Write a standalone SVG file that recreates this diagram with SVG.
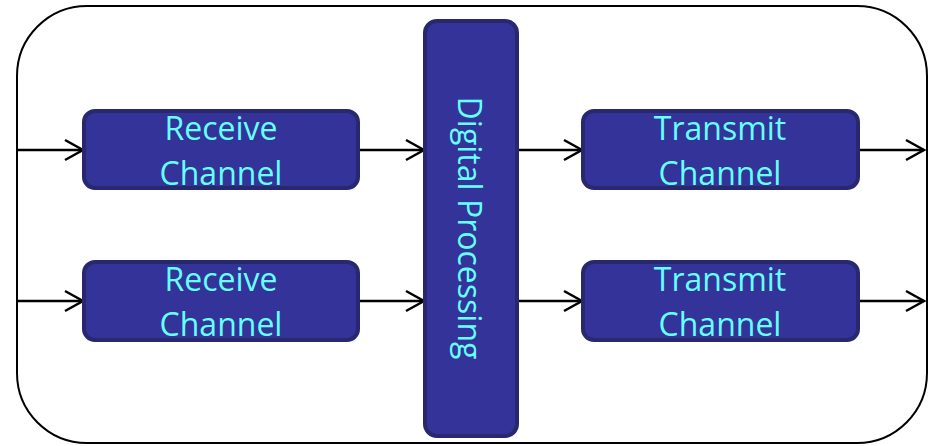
<svg xmlns="http://www.w3.org/2000/svg" width="930" height="446" viewBox="0 0 930 446">
<style>
.box{fill:#333399;stroke:#28286e;stroke-width:4}
.lbl{font-family:"Open Sans","Noto Sans",sans-serif;font-size:32px;fill:#66ffff;text-anchor:middle}
.ln{stroke:#000;stroke-width:2.5;fill:none;marker-end:url(#ah)}
</style>
<defs>
<marker id="ah" markerUnits="userSpaceOnUse" markerWidth="24" markerHeight="24" refX="20" refY="12" orient="auto" viewBox="0 0 24 24">
<path d="M2,2 L20,12 L2,22" fill="none" stroke="#000" stroke-width="2.5"/>
</marker>
</defs>
<rect x="17" y="6" width="910" height="437" rx="70" ry="70" fill="#fff" stroke="#000" stroke-width="2"/>
<g id="connectors">
<line class="ln" x1="17" y1="150" x2="83" y2="150"/>
<line class="ln" x1="17" y1="301" x2="83" y2="301"/>
<line class="ln" x1="359" y1="150" x2="424" y2="150"/>
<line class="ln" x1="359" y1="301" x2="424" y2="301"/>
<line class="ln" x1="518" y1="150" x2="582" y2="150"/>
<line class="ln" x1="518" y1="301" x2="582" y2="301"/>
<line class="ln" x1="859" y1="150" x2="924" y2="150"/>
<line class="ln" x1="859" y1="301" x2="924" y2="301"/>
</g>
<g id="rx1"><rect class="box" x="84" y="111" width="274" height="77" rx="11"/><text class="lbl" x="221" y="140">Receive</text><text class="lbl" x="221" y="185">Channel</text></g>
<g id="rx2"><rect class="box" x="84" y="262" width="274" height="78" rx="11"/><text class="lbl" x="221" y="291">Receive</text><text class="lbl" x="221" y="336">Channel</text></g>
<g id="tx1"><rect class="box" x="583" y="111" width="275" height="77" rx="11"/><text class="lbl" x="720" y="140">Transmit</text><text class="lbl" x="720" y="185">Channel</text></g>
<g id="tx2"><rect class="box" x="583" y="262" width="275" height="78" rx="11"/><text class="lbl" x="720" y="291">Transmit</text><text class="lbl" x="720" y="336">Channel</text></g>
<g id="dp"><rect class="box" x="425" y="21" width="92" height="415" rx="12"/><text class="lbl" transform="translate(458,228) rotate(90)" x="0" y="0">Digital Processing</text></g>
</svg>
